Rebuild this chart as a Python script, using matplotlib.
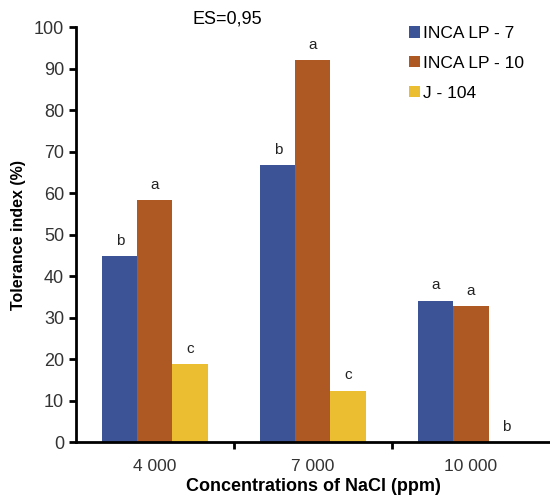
import numpy as np
import matplotlib
matplotlib.use("Agg")
import matplotlib.pyplot as plt

plt.rcParams['font.family'] = ['Liberation Sans', 'DejaVu Sans']

# Datos
concentraciones = ["4 000", "7 000", "10 000"]
inca7 = [44.8, 66.7, 34.1]
inca10 = [58.3, 92.1, 32.7]
j104 = [18.7, 12.4, 0.0]
letras_inca7 = ["b", "b", "a"]
letras_inca10 = ["a", "a", "a"]
letras_j104 = ["c", "c", "b"]

series = [
    ("INCA LP - 7", inca7, letras_inca7, "#3C5496"),
    ("INCA LP - 10", inca10, letras_inca10, "#AE5824"),
    ("J - 104", j104, letras_j104, "#EBBD30"),
]

fig = plt.figure(figsize=(5.5, 4.95), dpi=100)
ax = fig.add_axes([0.138, 0.107, 0.862, 0.838])

x = np.arange(len(concentraciones))
w = 0.222
for i, (nombre, vals, letras, color) in enumerate(series):
    pos = x + (i - 1) * w
    ax.bar(pos, vals, width=w, color=color, label=nombre)
    for p, v, l in zip(pos, vals, letras):
        ax.text(p, v + 2.0, l, ha="center", va="bottom", fontsize=11, color="#222222")

ax.set_xlim(-0.5, 2.5)
ax.set_ylim(0, 100)
ax.set_yticks(range(0, 101, 10))
ax.set_xticks(x)
ax.set_xticklabels(concentraciones)
ax.set_xticks([0.5, 1.5], minor=True)
ax.tick_params(axis="x", which="major", length=0, pad=12, labelsize=12.5, labelcolor="#333333")
ax.tick_params(axis="x", which="minor", length=5, width=2, direction="out")
ax.tick_params(axis="y", length=5, width=2, labelsize=13, labelcolor="#333333")

for s in ["top", "right"]:
    ax.spines[s].set_visible(False)
for s in ["left", "bottom"]:
    ax.spines[s].set_linewidth(2)

ax.set_ylabel("Tolerance index (%)", fontsize=11.5, fontweight="bold", labelpad=6)
ax.set_xlabel("Concentrations of NaCl (ppm)", fontsize=13, fontweight="bold", labelpad=3)

ax.text(0.32, 1.02, "ES=0,95", transform=ax.transAxes, fontsize=13, ha="center", va="center")

fig.legend(loc="upper left", bbox_to_anchor=(0.716, 0.979), frameon=False, fontsize=12.5,
           handlelength=0.63, handleheight=0.63, handletextpad=0.15, labelspacing=0.85)

plt.savefig("out.png", dpi=100)
